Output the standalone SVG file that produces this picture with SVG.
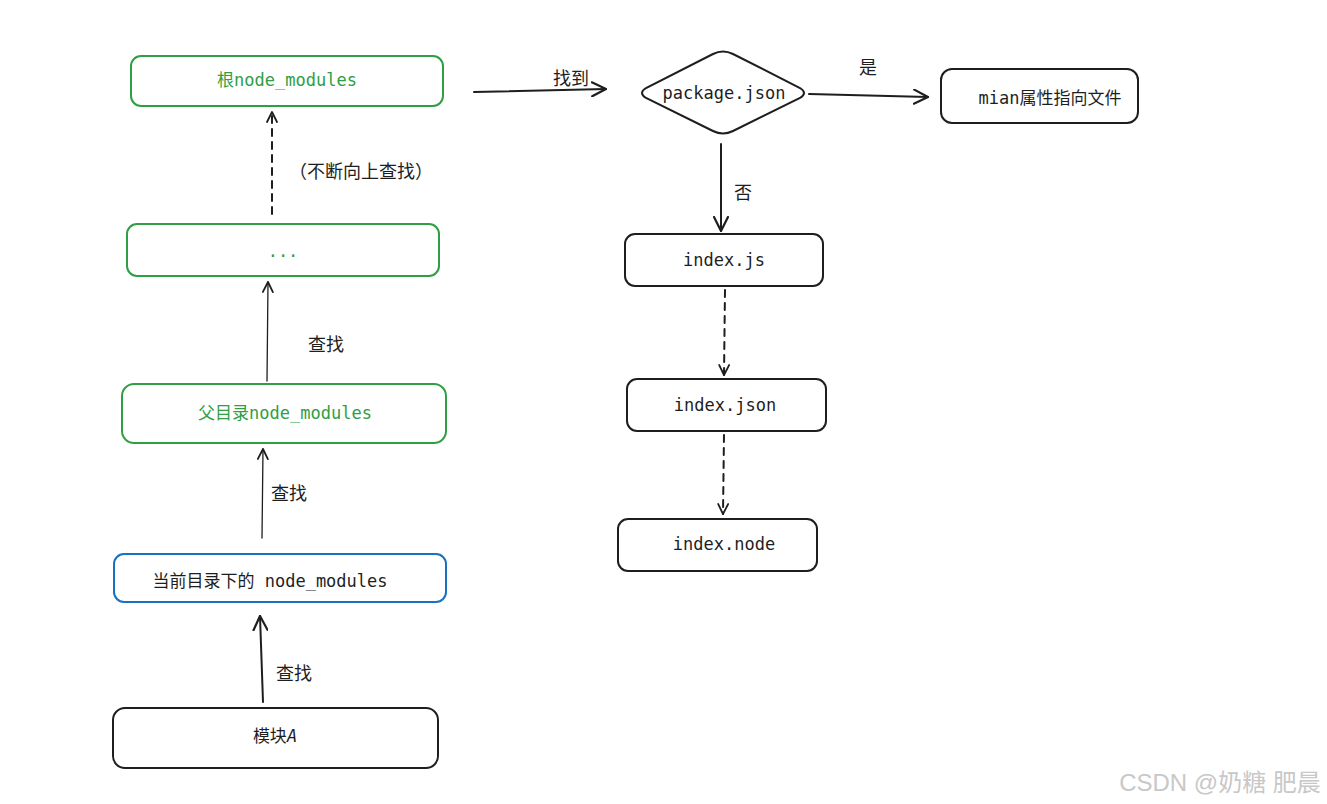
<svg xmlns="http://www.w3.org/2000/svg" width="1327" height="804" viewBox="0 0 1327 804">
<defs>
<marker id="ah" viewBox="0 0 12 12" refX="11" refY="6" markerWidth="12" markerHeight="12" markerUnits="userSpaceOnUse" orient="auto">
<path d="M1,1 L11,6 L1,11" fill="none" stroke="#1e1e1e" stroke-width="1.8" stroke-linecap="round" stroke-linejoin="round"/>
</marker>
<marker id="ahb" viewBox="0 0 16 16" refX="15" refY="8" markerWidth="16" markerHeight="16" markerUnits="userSpaceOnUse" orient="auto">
<path d="M1,1 L15,8 L1,15" fill="none" stroke="#1e1e1e" stroke-width="2.2" stroke-linecap="round" stroke-linejoin="round"/>
</marker>
</defs>
<style>
.box{fill:#fff;stroke:#1e1e1e;stroke-width:2}
.green{fill:#fff;stroke:#2f9e44;stroke-width:2}
.blue{fill:#fff;stroke:#1971c2;stroke-width:2}
.mono{font-family:"DejaVu Sans Mono","Liberation Mono","Noto Sans CJK SC",monospace;font-size:17px;fill:#1e1e1e;text-anchor:middle;dominant-baseline:central}
.gt{fill:#2f9e44}
.lbl{font-family:"Noto Sans CJK SC","Noto Sans",sans-serif;font-size:18px;fill:#1e1e1e;dominant-baseline:central}
.c{fill:none;stroke:#1e1e1e;stroke-linecap:round}
.thin{stroke-width:1.3}
.thick{stroke-width:2}
.dash{stroke-width:2;stroke-dasharray:7 6}
</style>
<rect width="1327" height="804" fill="#fff"/>
<g id="connectors">
<path class="c dash" d="M272,214 L272,112" marker-end="url(#ah)"/>
<path class="c thin" d="M267,381 L268,282" marker-end="url(#ah)"/>
<path class="c thin" d="M262,538 L263,449" marker-end="url(#ah)"/>
<path class="c thick" d="M263,702 L260,616" marker-end="url(#ahb)"/>
<path class="c thick" d="M474,92 L606,89" marker-end="url(#ahb)"/>
<path class="c thick" d="M809,94 L928,97" marker-end="url(#ahb)"/>
<path class="c thick" d="M721,144 L721,231" marker-end="url(#ahb)"/>
<path class="c dash" d="M725,290 L724,375" marker-end="url(#ah)"/>
<path class="c dash" d="M724,435 L723,514" marker-end="url(#ah)"/>
<text class="lbl" x="289" y="170" font-size="16">（不断向上查找）</text>
<text class="lbl" x="308" y="343">查找</text>
<text class="lbl" x="271" y="492">查找</text>
<text class="lbl" x="276" y="672">查找</text>
<text class="lbl" x="553" y="77">找到</text>
<text class="lbl" x="859" y="66">是</text>
<text class="lbl" x="734" y="191">否</text>
</g>
<g id="root">
<rect class="green" x="131" y="56" width="312" height="50" rx="10"/>
<text class="mono gt" x="287" y="80">根node_modules</text>
</g>
<g id="dots">
<rect class="green" x="127" y="224" width="312" height="52" rx="10"/>
<text class="mono gt" x="283" y="251">...</text>
</g>
<g id="parent">
<rect class="green" x="122" y="384" width="324" height="59" rx="12"/>
<text class="mono gt" x="285" y="413">父目录node_modules</text>
</g>
<g id="current">
<rect class="blue" x="114" y="554" width="332" height="48" rx="10"/>
<text class="mono" x="270" y="581">当前目录下的 node_modules</text>
</g>
<g id="moduleA">
<rect class="box" x="113" y="708" width="325" height="60" rx="12"/>
<text class="mono" x="275" y="736">模块<tspan font-style="italic">A</tspan></text>
</g>
<g id="package">
<path class="box" d="M713,54 Q723,49 733,54 L800,88 Q808,93 800,98 L733,131 Q723,136 713,131 L646,98 Q638,93 646,88 Z"/>
<text class="mono" x="724" y="93">package.json</text>
</g>
<g id="main">
<rect class="box" x="941" y="69" width="197" height="54" rx="11"/>
<text class="mono" x="1050" y="98">mian属性指向文件</text>
</g>
<g id="indexjs">
<rect class="box" x="625" y="234" width="198" height="52" rx="10"/>
<text class="mono" x="724" y="260">index.js</text>
</g>
<g id="indexjson">
<rect class="box" x="627" y="379" width="199" height="52" rx="10"/>
<text class="mono" x="725" y="405">index.json</text>
</g>
<g id="indexnode">
<rect class="box" x="618" y="519" width="199" height="52" rx="10"/>
<text class="mono" x="724" y="544">index.node</text>
</g>
<text x="1220" y="782" font-family="'Liberation Sans','Noto Sans CJK SC',sans-serif" font-size="24" fill="#c8c8c8" text-anchor="middle" dominant-baseline="central">CSDN @奶糖 肥晨</text>
</svg>
